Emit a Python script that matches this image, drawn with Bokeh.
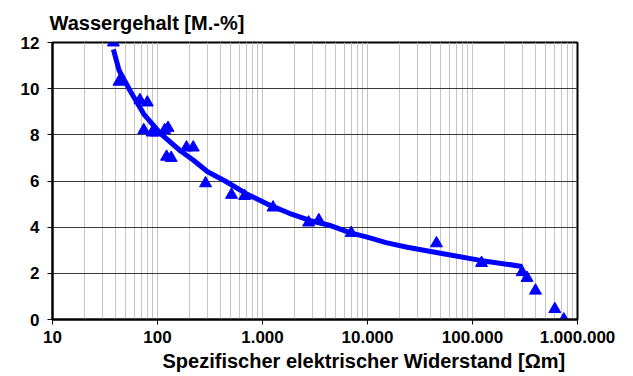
from bokeh.plotting import figure
from bokeh.models import FixedTicker, CustomJSTickFormatter, Title, Range1d
from bokeh.embed import file_html
from bokeh.resources import INLINE

# measured points: resistivity [Ohm m] and water content [M.-%]
rho = [38, 43, 68, 80, 74, 89, 97, 117, 126, 122, 135, 189, 219, 287, 507, 676,
       1260, 2750, 3440, 7000, 45400, 122000, 297000, 331000, 398000, 608000, 741000]
wc = [12.0, 10.3, 9.5, 9.4, 8.2, 8.1, 8.1, 8.2, 8.3, 7.05, 7.0, 7.45, 7.45, 5.9, 5.4, 5.35,
      4.85, 4.2, 4.3, 3.75, 3.3, 2.45, 2.05, 1.8, 1.25, 0.45, 0.0]

# fitted trend curve
trend_rho = [38, 43, 55, 74, 107, 166, 220, 300, 440, 700, 1110, 1800, 2860, 4440, 6900, 9930,
             15000, 23900, 49500, 119000, 297000]
trend_wc = [11.7, 10.8, 9.9, 8.9, 8.05, 7.3, 6.9, 6.4, 6.0, 5.45, 5.0, 4.6, 4.28, 4.07, 3.75, 3.57,
            3.33, 3.13, 2.87, 2.56, 2.30]

x_major = [10, 100, 1000, 10000, 100000, 1000000]
x_minor = [m * d for d in [10, 100, 1000, 10000, 100000] for m in range(2, 10)]
y_ticks = [0, 2, 4, 6, 8, 10, 12]

title_text = "Wassergehalt [M.-%]"
xlabel_text = "Spezifischer elektrischer Widerstand [\u03a9m]"

FONT = "Liberation Sans"

p = figure(width=625, height=376, x_axis_type="log",
           x_range=Range1d(10, 1000000), y_range=Range1d(0, 12),
           output_backend="svg", toolbar_location=None,
           min_border_left=52, min_border_right=48, min_border_top=42, min_border_bottom=57)

p.background_fill_color = "white"
p.border_fill_color = "white"
p.outline_line_color = "black"
p.outline_line_width = 2

# title (top-left)
p.title.text = title_text
p.title.align = "left"
p.title.offset = -3
p.title.standoff = 17
p.title.text_font = FONT
p.title.text_font_style = "bold"
p.title.text_font_size = "20px"
p.title.text_color = "black"

# axes
p.xaxis.ticker = FixedTicker(ticks=x_major, minor_ticks=x_minor)
p.xaxis.formatter = CustomJSTickFormatter(code="""
    return Math.round(tick).toString().replace(/\\B(?=(\\d{3})+(?!\\d))/g, '.');
""")
p.yaxis.ticker = FixedTicker(ticks=y_ticks)

for ax in (p.xaxis, p.yaxis):
    ax.axis_line_color = "black"
    ax.axis_line_width = 2
    ax.major_tick_line_color = "black"
    ax.major_tick_line_width = 1
    ax.major_tick_in = 0
    ax.major_tick_out = 5
    ax.minor_tick_line_color = None
    ax.major_label_text_font = FONT
    ax.major_label_text_font_style = "bold"
    ax.major_label_text_font_size = "17px"
    ax.major_label_text_color = "black"
p.yaxis.major_label_standoff = 8
p.xaxis.major_label_standoff = 6

# x-axis label as a left-aligned title below the axis
xlab = Title(text=xlabel_text, align="left", offset=110, standoff=4,
             text_font=FONT, text_font_style="bold", text_font_size="20px",
             text_color="black")
p.add_layout(xlab, "below")

# grids
p.xgrid.grid_line_color = "#c4c4c4"
p.xgrid.grid_line_width = 1
p.xgrid.minor_grid_line_color = "#c4c4c4"
p.xgrid.minor_grid_line_width = 1
p.ygrid.grid_line_color = "#3a3a3a"
p.ygrid.grid_line_width = 1

# data
p.line(trend_rho, trend_wc, line_color="#0000ff", line_width=5, line_join="round")
p.scatter(rho, wc, marker="triangle", size=12, fill_color="#0000ff", line_color="#0000ff")

open("out.html", "w").write(file_html(p, INLINE))
